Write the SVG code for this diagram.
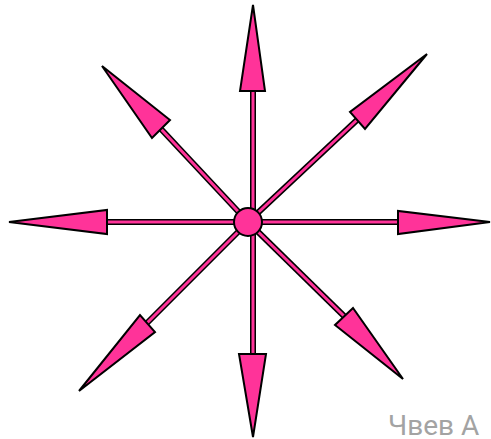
<svg xmlns="http://www.w3.org/2000/svg" width="491" height="439" viewBox="0 0 491 439">
<style>
.sh-o{stroke:#000;stroke-width:6;fill:none}
.sh-i{stroke:#ff3399;stroke-width:3;fill:none}
.head{fill:#ff3399;stroke:#000;stroke-width:2;stroke-linejoin:miter}
.hub{fill:#ff3399;stroke:#000;stroke-width:2}
.lbl{font-family:Roboto,"Liberation Sans",Arial,sans-serif;font-size:28px;fill:#a3a3a3}
</style>
<g id="connectors">
<g class="sh-o">
<line x1="253" y1="222" x2="253" y2="91"/>
<line x1="253" y1="222" x2="253" y2="354"/>
<line x1="248" y1="222" x2="398" y2="222"/>
<line x1="248" y1="222" x2="107" y2="222"/>
<line x1="248" y1="222" x2="357" y2="120"/>
<line x1="248" y1="222" x2="161" y2="129"/>
<line x1="248" y1="222" x2="147" y2="323"/>
<line x1="248" y1="222" x2="344" y2="316"/>
</g>
<g class="sh-i">
<line x1="253" y1="222" x2="253" y2="91"/>
<line x1="253" y1="222" x2="253" y2="354"/>
<line x1="248" y1="222" x2="398" y2="222"/>
<line x1="248" y1="222" x2="107" y2="222"/>
<line x1="248" y1="222" x2="357" y2="120"/>
<line x1="248" y1="222" x2="161" y2="129"/>
<line x1="248" y1="222" x2="147" y2="323"/>
<line x1="248" y1="222" x2="344" y2="316"/>
</g>
</g>
<g id="arrow-n"><polygon class="head" points="253,5 265,91 240,91"/></g>
<g id="arrow-s"><polygon class="head" points="253,437 266,354 239,354"/></g>
<g id="arrow-e"><polygon class="head" points="490,222 398,211 398,234"/></g>
<g id="arrow-w"><polygon class="head" points="9,222 107,210 107,234"/></g>
<g id="arrow-ne"><polygon class="head" points="427,54 350,112 365,129"/></g>
<g id="arrow-nw"><polygon class="head" points="102,66 170,120 152,138"/></g>
<g id="arrow-sw"><polygon class="head" points="79,391 140,315 155,332"/></g>
<g id="arrow-se"><polygon class="head" points="403,379 353,308 335,325"/></g>
<g id="hub"><circle class="hub" cx="248" cy="222" r="14"/></g>
<g id="label"><text class="lbl" x="388" y="435">Чвев А</text></g>
</svg>
